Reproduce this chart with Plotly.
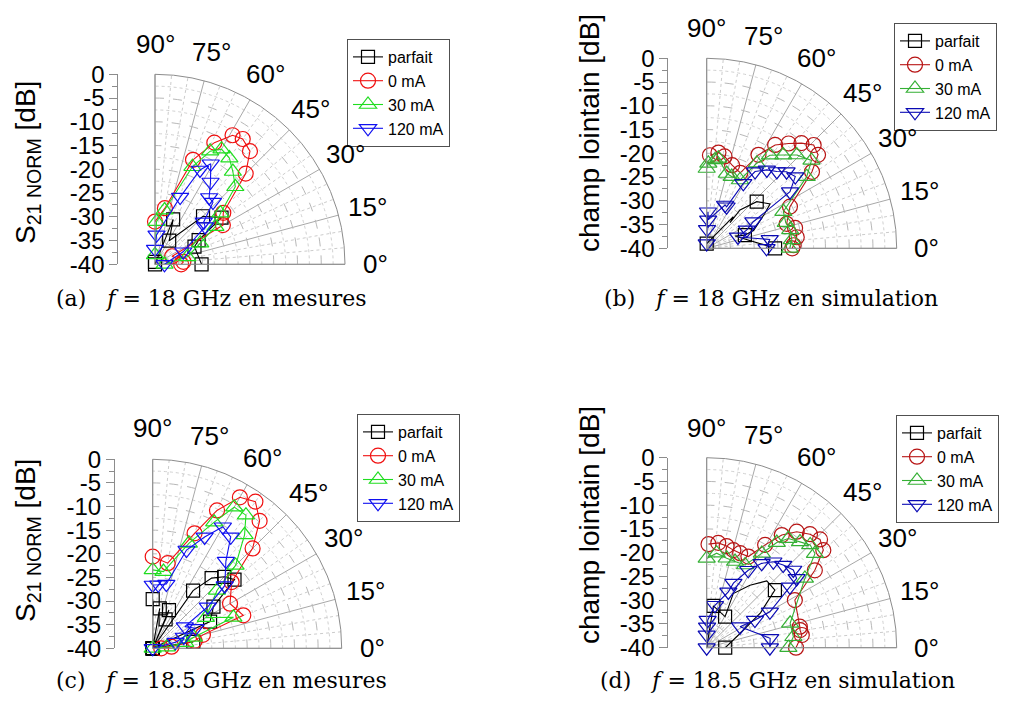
import math
import plotly.graph_objects as go

W, H = 1016, 716

# ---------------- data (theta in degrees, r in dB) ----------------
# (a) f = 18 GHz, measurements
a_parfait_theta = [0, 24, 29, 35, 45, 59, 68, 85, 90]
a_parfait_r = [-30.2, -30.9, -29.5, -22.9, -25.7, -34.2, -29.8, -40, -39.5]
a_0mA_theta = [0, 5, 25, 30, 37, 45, 50, 55, 59, 64, 70, 80, 90]
a_0mA_r = [-34.5, -34, -36, -23.5, -22, -13, -8.9, -7.8, -8.3, -11.5, -16.6, -28, -31]
a_30mA_theta = [0, 13, 25, 32, 38, 44, 50, 55, 60, 64, 69, 80, 88, 90]
a_30mA_r = [-38, -33, -29.5, -25, -22.5, -16.5, -14.5, -12.7, -12, -13.5, -18, -28.4, -31, -38]
a_120mA_theta = [0, 24, 37, 41, 47, 51, 56, 61, 64.5, 69.5, 87, 90]
a_120mA_r = [-38, -33.5, -26.8, -26.4, -22.1, -21.9, -19.1, -15.8, -18, -24.9, -33.8, -36.8]

# (b) f = 18 GHz, simulation
b_parfait_theta = [90, 56, 50, 47.7, 49, 43, 35, 31, 21, 19, 23.5, 0]
b_parfait_r = [-39, -36.2, -31.3, -32.7, -29.3, -25.6, -23.7, -25.7, -29.4, -31.5, -33.5, -25.6]
b_parfait_mark_theta = [90, 43, 19, 0]
b_parfait_mark_r = [-39, -25.6, -31.5, -25.6]
b_0mA_theta = [0, 2, 7, 13, 17, 26.6, 36, 40, 44, 48, 52, 56.5, 61, 66, 73, 79, 83, 88]
b_0mA_r = [-22, -21.7, -20.9, -20.9, -22.4, -20.4, -12.6, -9.4, -8.7, -10.2, -12, -13.9, -17.5, -22.6, -21.7, -20.3, -19.7, -20.4]
b_30mA_theta = [0, 5.6, 12.4, 18, 25.6, 35.6, 40, 46, 50.6, 55.8, 59.5, 64, 70.8, 75, 82.6, 84.6, 88.9, 90]
b_30mA_r = [-22.5, -22, -22, -22.5, -22.1, -14.1, -11.2, -12.7, -14.6, -16.3, -19.2, -24, -24, -23.7, -20.9, -21.3, -22.1, -23.2]
b_120mA_theta = [0, 8, 20, 24.6, 29.7, 34.2, 39, 43.8, 47.6, 52.5, 57.8, 60.6, 64.4, 67, 87, 88, 89, 90]
b_120mA_r = [-27.4, -26.6, -33, -30.7, -28.7, -18.8, -16, -16.7, -18.1, -19.2, -20.9, -24.3, -30.3, -30.1, -34, -32.3, -36, -39]

# (c) f = 18.5 GHz, measurements
c_parfait_theta = [0, 9, 15, 25, 34.5, 40, 45, 50, 55, 60, 66, 67, 72, 80, 85, 90]
c_parfait_r = [-40, -31.3, -40, -26.6, -24.4, -17.4, -18.6, -20.6, -25.1, -40, -33.3, -31.2, -40, -31.4, -40, -29.6]
c_0mA_theta = [0, 5, 10, 15, 20, 30, 40, 45, 50, 55, 60, 65, 70, 80, 90]
c_0mA_r = [-38.2, -36, -31, -29, -19.6, -21.1, -18.2, -10.1, -4.8, -2.1, -3.1, -7.8, -14.1, -21.7, -20.6]
c_30mA_theta = [0, 5, 10, 15, 21, 30, 42, 45, 51, 55, 60, 64, 71, 82, 90]
c_30mA_r = [-40, -37, -33, -31, -21.7, -27, -21.7, -15.2, -9.1, -5.6, -5.5, -10.3, -16.5, -23.6, -23.4]
c_120mA_theta = [0, 15, 20, 25, 34, 37, 41, 50, 55, 60, 65, 71, 78, 85, 90]
c_120mA_r = [-40, -35, -33, -30, -31.8, -25.4, -19.8, -15.9, -11.2, -10.3, -14, -18, -26.1, -26.5, -26.6]

# (d) f = 18.5 GHz, simulation
d_parfait_theta = [90, 80.9, 59.4, 63.9, 55.3, 48, 40.2, 33, 21.8, 0]
d_parfait_r = [-40, -31.1, -32.4, -27.3, -24, -21.1, -21.2, -26.5, -32.8, -36.1]
d_parfait_mark_theta = [80.9, 59.4, 40.2, 0]
d_parfait_mark_r = [-31.1, -32.4, -21.2, -36.1]
d_0mA_theta = [0, 7.6, 10.7, 12.7, 28.4, 35.6, 39.9, 43.7, 47.7, 52.2, 56.3, 60.4, 65.4, 70.5, 74.7, 78.9, 83.7, 89]
d_0mA_r = [-21.2, -19.8, -20, -19.9, -18.9, -12, -8, -7, -7.7, -9.1, -11.5, -15.1, -18.9, -18.9, -18.7, -18.2, -17.8, -18.2]
d_30mA_theta = [0, 7.2, 16.3, 35.2, 41, 44.8, 48.6, 53.2, 56.3, 59.7, 65.1, 71.8, 77.4, 84, 90]
d_30mA_r = [-22.8, -21.6, -21.7, -14.7, -9.8, -9.3, -10.3, -11.3, -13.4, -17, -20.8, -20.9, -20.7, -20, -21.2]
d_120mA_theta = [0, 8.4, 32.2, 29.8, 29.6, 36.2, 37.6, 41.9, 47.2, 52.2, 56.9, 61.8, 67.5, 68.8, 79, 88, 89, 90, 90]
d_120mA_r = [-26.7, -26.5, -31.7, -28.3, -24.7, -18.3, -16.1, -15.5, -16.3, -17.1, -18.8, -21.5, -25.3, -27.4, -30.9, -34.2, -35.6, -37.3, -40]

series_names = ["parfait", "0 mA", "30 mA", "120 mA"]
angle_ticks = [0, 15, 30, 45, 60, 75, 90]
db_ticks = [-40, -35, -30, -25, -20, -15, -10, -5, 0]

captions = ["(a)&nbsp;&nbsp;&nbsp;<i>f</i> = 18 GHz en mesures",
            "(b)&nbsp;&nbsp;&nbsp;<i>f</i> = 18 GHz en simulation",
            "(c)&nbsp;&nbsp;&nbsp;<i>f</i> = 18.5 GHz en mesures",
            "(d)&nbsp;&nbsp;&nbsp;<i>f</i> = 18.5 GHz en simulation"]

# ---------------- layout of panels (pixels) ----------------
SANS = "Liberation Sans, Arial, sans-serif"
SERIF = "DejaVu Serif, serif"

meas_colors = ["#000000", "#f01010", "#20dd20", "#1010f0"]
sim_colors = ["#000000", "#b81414", "#35b035", "#0a0ab4"]
symbols = ["square-open", "circle-open", "triangle-up-open", "triangle-down-open"]
msizes = [13, 15, 15, 15]

panels = [
    dict(cx=155, cy=264.3, R=190, axx=118.3, title="S<sub>21 NORM</sub> [dB]", tx=27, ty=163,
         legx=347, legy=39, cap=(211, 299), colors=meas_colors,
         data=[(a_parfait_theta, a_parfait_r), (a_0mA_theta, a_0mA_r),
               (a_30mA_theta, a_30mA_r), (a_120mA_theta, a_120mA_r)], marks=None),
    dict(cx=706.7, cy=248.3, R=190, axx=668.3, title="champ lointain [dB]", tx=589, ty=133,
         legx=894, legy=23, cap=(771, 299), colors=sim_colors,
         data=[(b_parfait_theta, b_parfait_r), (b_0mA_theta, b_0mA_r),
               (b_30mA_theta, b_30mA_r), (b_120mA_theta, b_120mA_r)],
         marks=(b_parfait_mark_theta, b_parfait_mark_r)),
    dict(cx=152.7, cy=648.3, R=189, axx=115, title="S<sub>21 NORM</sub> [dB]", tx=27, ty=541,
         legx=357, legy=414, cap=(221, 680), colors=meas_colors,
         data=[(c_parfait_theta, c_parfait_r), (c_0mA_theta, c_0mA_r),
               (c_30mA_theta, c_30mA_r), (c_120mA_theta, c_120mA_r)], marks=None),
    dict(cx=706.7, cy=647.7, R=190, axx=668.3, title="champ lointain [dB]", tx=589, ty=525,
         legx=896, legy=415, cap=(777, 680), colors=sim_colors,
         data=[(d_parfait_theta, d_parfait_r), (d_0mA_theta, d_0mA_r),
               (d_30mA_theta, d_30mA_r), (d_120mA_theta, d_120mA_r)],
         marks=(d_parfait_mark_theta, d_parfait_mark_r)),
]

fig = go.Figure()
layout = dict(width=W, height=H, margin=dict(l=0, r=0, t=0, b=0, autoexpand=False),
              paper_bgcolor="white", plot_bgcolor="white", showlegend=True,
              font=dict(family=SANS, color="black"))
annotations = []

def pname(n):
    return "polar" if n == 1 else f"polar{n}"

for i, p in enumerate(panels):
    cx, cy, R = p["cx"], p["cy"], p["R"]
    dom_x = [cx / W, (cx + R) / W]
    dom_y = [1 - cy / H, 1 - (cy - R) / H]
    g, m = 2 * i + 1, 2 * i + 2
    # fine (dotted) grid underneath
    layout[pname(g)] = dict(
        domain=dict(x=dom_x, y=dom_y), sector=[0, 90], bgcolor="white",
        radialaxis=dict(range=[-40, 0], tickvals=[-37.5, -32.5, -27.5, -22.5, -17.5, -12.5, -7.5, -2.5],
                        showticklabels=False, ticks="", showline=False,
                        gridcolor="#d0d0d0", griddash="dot", gridwidth=1),
        angularaxis=dict(tickvals=[5, 10, 20, 25, 35, 40, 50, 55, 65, 70, 80, 85],
                         showticklabels=False, ticks="", showline=False,
                         gridcolor="#cccccc", griddash="dot", gridwidth=1))
    # main grid + data
    layout[pname(m)] = dict(
        domain=dict(x=dom_x, y=dom_y), sector=[0, 90], bgcolor="rgba(0,0,0,0)",
        radialaxis=dict(range=[-40, 0], tickvals=[-35, -30, -25, -20, -15, -10, -5],
                        showticklabels=False, ticks="", showline=False,
                        gridcolor="#b8b8b8", griddash="dash", gridwidth=1),
        angularaxis=dict(tickvals=angle_ticks, showticklabels=False, ticks="",
                         showline=True, linecolor="#8c8c8c", linewidth=1,
                         gridcolor="#a8a8a8", gridwidth=1))
    fig.add_trace(go.Scatterpolar(r=[None], theta=[None], subplot=pname(g),
                                  showlegend=False, hoverinfo="skip"))

    leg = "legend" if i == 0 else f"legend{i + 1}"
    layout[leg] = dict(x=p["legx"] / W, y=1 - p["legy"] / H, xanchor="left", yanchor="top",
                       bgcolor="white", bordercolor="#505050", borderwidth=1,
                       font=dict(family=SANS, size=16, color="black"),
                       tracegroupgap=0, itemwidth=30)

    for k, (th, rr) in enumerate(p["data"]):
        col = p["colors"][k]
        mk = dict(symbol=symbols[k], size=msizes[k], color=col, line=dict(color=col, width=1.2))
        if k == 0 and p["marks"] is not None:
            # line without markers, markers only where the reference shows them
            fig.add_trace(go.Scatterpolar(r=rr, theta=th, mode="lines", subplot=pname(m),
                                          line=dict(color=col, width=1.1), showlegend=False,
                                          cliponaxis=False))
            mt, mr = p["marks"]
            fig.add_trace(go.Scatterpolar(r=mr, theta=mt, mode="markers", subplot=pname(m),
                                          marker=mk, showlegend=False, cliponaxis=False))
            fig.add_trace(go.Scatterpolar(r=[None], theta=[None], mode="lines+markers",
                                          subplot=pname(m), name=series_names[k], legend=leg,
                                          line=dict(color=col, width=1.1), marker=mk))
        else:
            fig.add_trace(go.Scatterpolar(r=rr, theta=th, mode="lines+markers", subplot=pname(m),
                                          name=series_names[k], legend=leg,
                                          line=dict(color=col, width=1.1), marker=mk,
                                          cliponaxis=False))

    # left dB axis (cartesian)
    xa = "xaxis" if i == 0 else f"xaxis{i + 1}"
    ya = "yaxis" if i == 0 else f"yaxis{i + 1}"
    xr = "x" if i == 0 else f"x{i + 1}"
    yr = "y" if i == 0 else f"y{i + 1}"
    layout[xa] = dict(domain=[p["axx"] / W, p["axx"] / W + 0.002], visible=False, range=[0, 1],
                      anchor=yr)
    layout[ya] = dict(domain=dom_y, range=[-40, 0], anchor=xr, side="left",
                      tickvals=db_ticks, ticktext=[str(v) for v in db_ticks],
                      ticks="outside", ticklen=8, tickcolor="#8c8c8c", tickwidth=1,
                      showline=True, linecolor="#8c8c8c", linewidth=1,
                      showgrid=False, zeroline=False,
                      tickfont=dict(family=SANS, size=24, color="black"),
                      minor=dict(tickvals=[v + 2.5 for v in db_ticks[:-1]], ticks="outside",
                                 ticklen=5, tickcolor="#8c8c8c", showgrid=False))
    fig.add_trace(go.Scatter(x=[None], y=[None], xaxis=xr, yaxis=yr, showlegend=False,
                             hoverinfo="skip"))

    # angle labels
    for a in angle_ticks:
        ax = cx + 220 * math.cos(math.radians(a))
        ay = cy - 220 * math.sin(math.radians(a))
        annotations.append(dict(x=ax / W, y=1 - ay / H, xref="paper", yref="paper",
                                text=f"{a}°", showarrow=False, xanchor="center", yanchor="middle",
                                font=dict(family=SANS, size=26, color="black")))
    # y title
    annotations.append(dict(x=p["tx"] / W, y=1 - p["ty"] / H, xref="paper", yref="paper",
                            text=p["title"], textangle=-90, showarrow=False,
                            xanchor="center", yanchor="middle",
                            font=dict(family=SANS, size=28, color="black")))
    # caption
    annotations.append(dict(x=p["cap"][0] / W, y=1 - p["cap"][1] / H, xref="paper", yref="paper",
                            text=captions[i], showarrow=False, xanchor="center", yanchor="middle",
                            font=dict(family=SERIF, size=22, color="black")))

layout["annotations"] = annotations
fig.update_layout(**layout)
fig.write_html("out.html", config={"displayModeBar": False},
               post_script="document.body.style.margin='0';document.body.style.padding='0';"
                           "document.documentElement.style.overflow='hidden';"
                           "document.body.style.overflow='hidden';")
